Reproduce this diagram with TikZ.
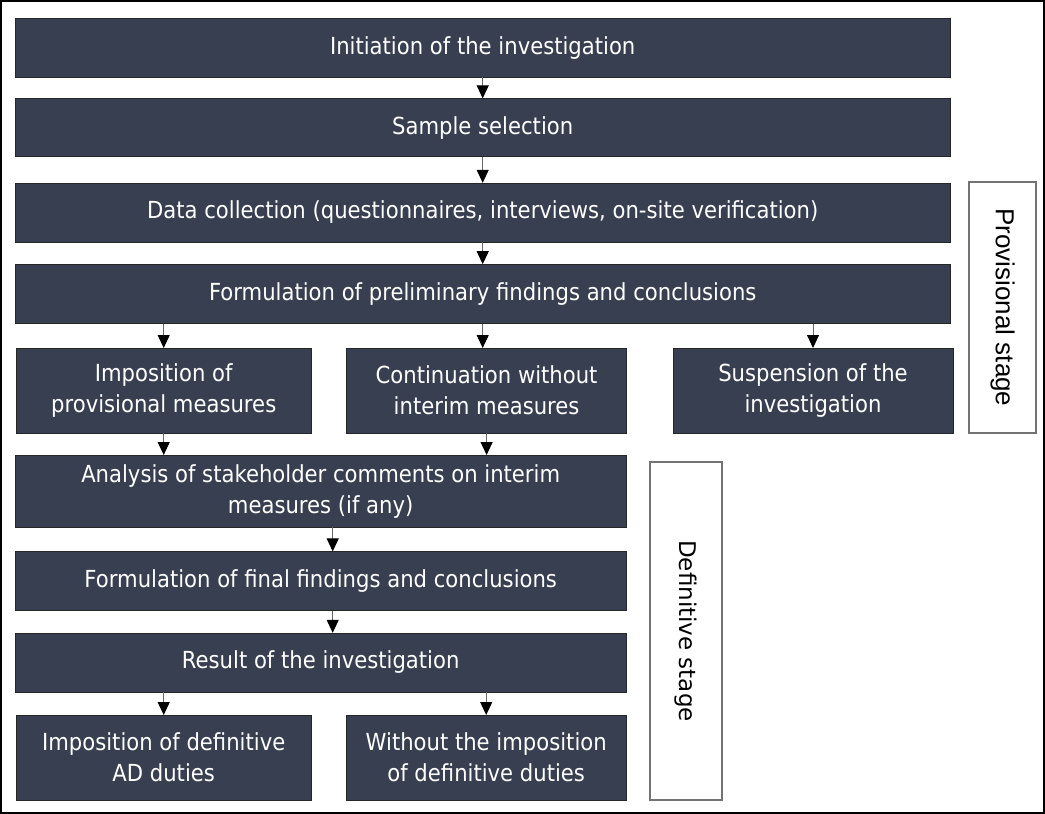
\documentclass[tikz,border=0pt]{standalone}
\usepackage{fontspec}
\setmainfont{DejaVu Sans}[FakeStretch=0.9]
\newfontfamily\arialfont{Liberation Sans}
\newfontfamily\verdfont{DejaVu Sans}
\usetikzlibrary{arrows.meta,positioning}
\definecolor{boxfill}{RGB}{55,63,80}

\begin{document}
\begin{tikzpicture}[x=1pt,y=-1pt,->,>={Triangle[width=12pt,length=13pt,color=black]},
                    node distance=21pt]
  \tikzstyle{every node}=[font=\fontsize{23.5}{31}\selectfont]
  \tikzstyle{every edge}=[draw=black!60,line width=1pt]
  \tikzstyle{box}=[draw=black!85,fill=boxfill,text=white,align=center,
                   inner sep=0pt,minimum height=59pt]
  \tikzstyle{stagebox}=[draw=black!55,fill=white,line width=1.2pt,inner sep=0pt]

  \useasboundingbox (0,0) rectangle (1045,814);
  \draw[-,line width=2pt] (1,1) rectangle (1044,813);

  \node[box,minimum width=935pt,anchor=north west] (0) at (15,18) {Initiation of the investigation};
  \node[box,minimum width=935pt,minimum height=58pt] (1) [below=21pt of 0] {Sample selection};
  \node[box,minimum width=935pt] (2) [below=26pt of 1] {Data collection (questionnaires, interviews, on-site verification)};
  \node[box,minimum width=935pt] (3) [below=22pt of 2] {Formulation of preliminary findings and conclusions};

  \node[box,minimum width=295pt,minimum height=85pt,anchor=north west] (4) at (16,348) {Imposition of\\provisional measures};
  \node[box,minimum width=280pt,minimum height=85pt] (5) [right=35pt of 4] {Continuation without\\interim measures};
  \node[box,minimum width=280pt,minimum height=85pt] (6) [right=46pt of 5] {Suspension of the\\investigation};

  \node[box,minimum width=611pt,minimum height=72pt,anchor=north west] (7) at (15,455) {Analysis of stakeholder comments on interim\\measures (if any)};
  \node[box,minimum width=611pt] (8) [below=24pt of 7] {Formulation of final findings and conclusions};
  \node[box,minimum width=611pt] (9) [below=22pt of 8] {Result of the investigation};
  \node[box,minimum width=295pt,minimum height=85pt,anchor=north west] (10) at (16,715) {Imposition of definitive\\AD duties};
  \node[box,minimum width=280pt,minimum height=85pt,anchor=north west] (11) at (346,715) {Without the imposition\\of definitive duties};

  \node[stagebox,rotate=-90,minimum width=251pt,minimum height=67pt,
        font=\arialfont\fontsize{26}{30}\selectfont] (12) at (1002.5,307.5) {Provisional stage};
  \node[stagebox,rotate=-90,minimum width=338pt,minimum height=72pt,
        font=\verdfont\fontsize{23}{28}\selectfont] (13) at (686,631) {Definitive stage};

  \path (0) edge (1)
        (1) edge (2)
        (2) edge (3)
        (3.south -| 4) edge (4)
        (3.south) edge (3.south |- 5.north)
        (3.south -| 6) edge (6)
        (4) edge (4 |- 7.north)
        (5) edge (5 |- 7.north)
        ([xshift=12pt]7.south) edge ([xshift=12pt]8.north)
        ([xshift=12pt]8.south) edge ([xshift=12pt]9.north)
        (9.south -| 10) edge (10)
        (9.south -| 11) edge (11)
  ; %end path

\end{tikzpicture}
\end{document}
